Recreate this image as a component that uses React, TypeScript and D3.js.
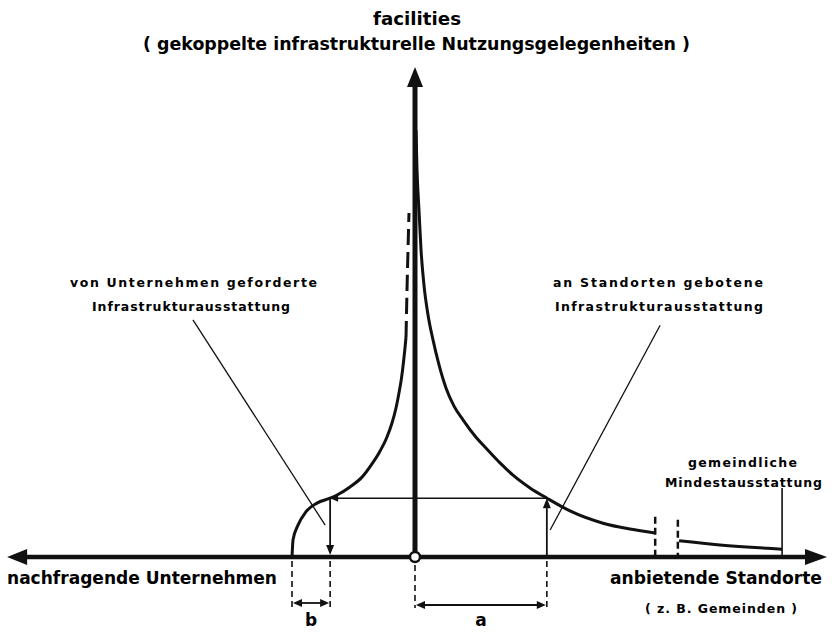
import React from 'react'
import * as d3 from 'd3'

const W = 832
const H = 632

// offered infrastructure at locations (right of origin), before the break
const offered: [number, number][] = [
  [0.24, 87.1], [0.49, 79], [0.97, 70.8], [1.46, 62.7], [2.18, 55.5], [3.16, 49.4],
  [4.37, 44.3], [5.83, 39.2], [7.52, 34.5], [9.47, 30.8], [11.65, 28], [14.56, 24.7],
  [17.48, 22], [20.63, 19.2], [23.79, 16.7], [27.91, 14.1], [32.04, 12], [37.62, 9.4],
  [45.63, 6.9], [52.18, 5.7], [58.25, 4.9],
]
// offered infrastructure after the break, down to the municipal minimum
const offeredTail: [number, number][] = [[64.1, 3.3], [74, 2.45], [89.1, 1.6]]
// infrastructure demanded by firms (left of origin)
const demanded: [number, number][] = [
  [-29.85, 0], [-29.6, 3.5], [-28.4, 6.5], [-26.5, 9.2], [-23.8, 11], [-20.6, 12],
  [-18.93, 12.65], [-15.78, 14.3], [-12.86, 16.3], [-10.44, 19], [-8.5, 21.6],
  [-6.8, 24.5], [-5.58, 27.35], [-4.61, 30.4], [-3.88, 33.5], [-3.28, 36.5],
  [-2.79, 39.8], [-2.43, 42.65], [-2.18, 44.9],
]
const demandedDashed: [number, number][] = [[-2.18, 44.9], [-1.94, 54.5], [-1.7, 62.7], [-1.46, 70.2]]

const breakMarks: [number, number][] = [[58.3, 8.2], [63.8, 7.6]]
const minLevelX = 89.1
const minLeaderTop = 14.1
const arrowLevel = 12
const bSpan = [-29.85, -20.6]
const aSpan = [0, 32]

const titleLines = ['facilities', '( gekoppelte infrastrukturelle Nutzungsgelegenheiten )']
const leftLabel = ['von Unternehmen geforderte', 'Infrastrukturausstattung']
const rightLabel = ['an Standorten gebotene', 'Infrastrukturausstattung']
const minLabel = ['gemeindliche', 'Mindestausstattung']
const axisLeftLabel = 'nachfragende Unternehmen'
const axisRightLabel = 'anbietende Standorte'
const axisRightSub = '( z. B. Gemeinden )'

const x = d3.scaleLinear().domain([-100, 100]).range([3, 827])
const y = d3.scaleLinear().domain([0, 100]).range([557, 67])

const curve = d3
  .line<[number, number]>()
  .x((d) => x(d[0]))
  .y((d) => y(d[1]))
  .curve(d3.curveMonotoneX)

// filled arrow head, tip at (tx,ty), pointing in direction (dx,dy)
function head(tx: number, ty: number, dx: number, dy: number, len: number, hw: number) {
  const bx = tx - dx * len
  const by = ty - dy * len
  const px = -dy * hw
  const py = dx * hw
  return `M${tx},${ty}L${bx + px},${by + py}L${bx - px},${by - py}Z`
}

const FONT = "'DejaVu Sans', sans-serif"

export default function App() {
  const x0 = x(0)
  const y0 = y(0)
  const yArrow = y(arrowLevel)
  const dimTop = y0 + 4
  const dimBottom = 608
  return (
    <svg
      width={W}
      height={H}
      viewBox={`0 0 ${W} ${H}`}
      style={{ position: 'absolute', left: 0, top: 0, background: '#fff' }}
      fontFamily={FONT}
    >
      {/* title */}
      <text x={417} y={25} textAnchor="middle" fontSize={18} fontWeight="bold" textLength={88} lengthAdjust="spacingAndGlyphs">
        {titleLines[0]}
      </text>
      <text x={416.5} y={50} textAnchor="middle" fontSize={18} fontWeight="bold" textLength={547} lengthAdjust="spacingAndGlyphs">
        {titleLines[1]}
      </text>

      {/* curves */}
      <path d={curve(offered) ?? ''} fill="none" stroke="#111" strokeWidth={3} />
      <path d={curve(offeredTail) ?? ''} fill="none" stroke="#111" strokeWidth={3} />
      <path d={curve(demanded) ?? ''} fill="none" stroke="#111" strokeWidth={3} />
      <path d={curve(demandedDashed) ?? ''} fill="none" stroke="#111" strokeWidth={3} strokeDasharray="16,7" />

      {/* break marks */}
      {breakMarks.map(([bx, top], i) => (
        <line key={i} x1={x(bx)} x2={x(bx)} y1={y(top)} y2={y0} stroke="#111" strokeWidth={2.5} strokeDasharray="7,4" />
      ))}
      {/* minimum level leader */}
      <line x1={x(minLevelX)} x2={x(minLevelX)} y1={y(minLeaderTop)} y2={y0} stroke="#111" strokeWidth={1.6} />

      {/* level comparison arrows */}
      <line x1={x(bSpan[1])} x2={x(aSpan[1])} y1={yArrow} y2={yArrow} stroke="#111" strokeWidth={1.4} />
      <path d={head(x(bSpan[1]), yArrow, -1, 0, 8, 3.5)} fill="#111" />
      <line x1={x(bSpan[1])} x2={x(bSpan[1])} y1={yArrow} y2={y0 - 10} stroke="#111" strokeWidth={1.8} />
      <path d={head(x(bSpan[1]), y0 - 2, 0, 1, 10, 4)} fill="#111" />
      <line x1={x(aSpan[1])} x2={x(aSpan[1])} y1={y0} y2={yArrow + 10} stroke="#111" strokeWidth={1.8} />
      <path d={head(x(aSpan[1]), yArrow, 0, -1, 10, 4)} fill="#111" />

      {/* leaders to labels */}
      <line x1={x(-53.9)} y1={y(48.4)} x2={x(-21.8)} y2={y(6.5)} stroke="#111" strokeWidth={1.3} />
      <line x1={x(59.5)} y1={y(47.3)} x2={x(32.8)} y2={y(5.5)} stroke="#111" strokeWidth={1.3} />

      {/* axes */}
      <line x1={x(-99) + 16} x2={x(100) - 16} y1={y0} y2={y0} stroke="#111" strokeWidth={4.5} />
      <path d={head(x(-99), y0, -1, 0, 20, 8)} fill="#111" />
      <path d={head(x(100), y0, 1, 0, 22, 8)} fill="#111" />
      <line x1={x0} x2={x0} y1={y0} y2={y(100) + 16} stroke="#111" strokeWidth={5} />
      <path d={head(x0, y(100), 0, -1, 20, 8)} fill="#111" />
      <circle cx={x0} cy={y0} r={5} fill="#fff" stroke="#111" strokeWidth={2.5} />

      {/* dimension lines b and a */}
      {[bSpan, aSpan].map((span, i) => {
        const yy = i === 0 ? 603 : 605
        const x1 = x(span[0])
        const x2 = x(span[1])
        return (
          <g key={i}>
            <line x1={x1} x2={x1} y1={dimTop + (i === 1 ? 4 : 0)} y2={dimBottom} stroke="#111" strokeWidth={1.6} strokeDasharray="6,4" />
            <line x1={x2} x2={x2} y1={dimTop} y2={dimBottom} stroke="#111" strokeWidth={1.6} strokeDasharray="6,4" />
            <line x1={x1 + 6} x2={x2 - 6} y1={yy} y2={yy} stroke="#111" strokeWidth={1.8} />
            <path d={head(x1 + 1, yy, -1, 0, 9, 4)} fill="#111" />
            <path d={head(x2 - 1, yy, 1, 0, 9, 4)} fill="#111" />
            <text x={(x1 + x2) / 2} y={626} textAnchor="middle" fontSize={17} fontWeight="bold">
              {i === 0 ? 'b' : 'a'}
            </text>
          </g>
        )
      })}

      {/* labels */}
      <g fontSize={12.5} fontWeight="bold">
        <text x={193.5} y={287} textAnchor="middle" textLength={247} lengthAdjust="spacing">{leftLabel[0]}</text>
        <text x={191} y={311} textAnchor="middle" textLength={198} lengthAdjust="spacing">{leftLabel[1]}</text>
        <text x={658} y={287} textAnchor="middle" textLength={210} lengthAdjust="spacing">{rightLabel[0]}</text>
        <text x={659} y={311} textAnchor="middle" textLength={208} lengthAdjust="spacing">{rightLabel[1]}</text>
        <text x={742.5} y={467} textAnchor="middle" textLength={109} lengthAdjust="spacing">{minLabel[0]}</text>
        <text x={743.5} y={487} textAnchor="middle" textLength={157} lengthAdjust="spacing">{minLabel[1]}</text>
        <text x={721} y={613} textAnchor="middle" textLength={152} lengthAdjust="spacing">{axisRightSub}</text>
      </g>
      <text x={7} y={584} fontSize={18} fontWeight="bold" textLength={270} lengthAdjust="spacingAndGlyphs">{axisLeftLabel}</text>
      <text x={610} y={584} fontSize={18} fontWeight="bold" textLength={212} lengthAdjust="spacingAndGlyphs">{axisRightLabel}</text>
    </svg>
  )
}
